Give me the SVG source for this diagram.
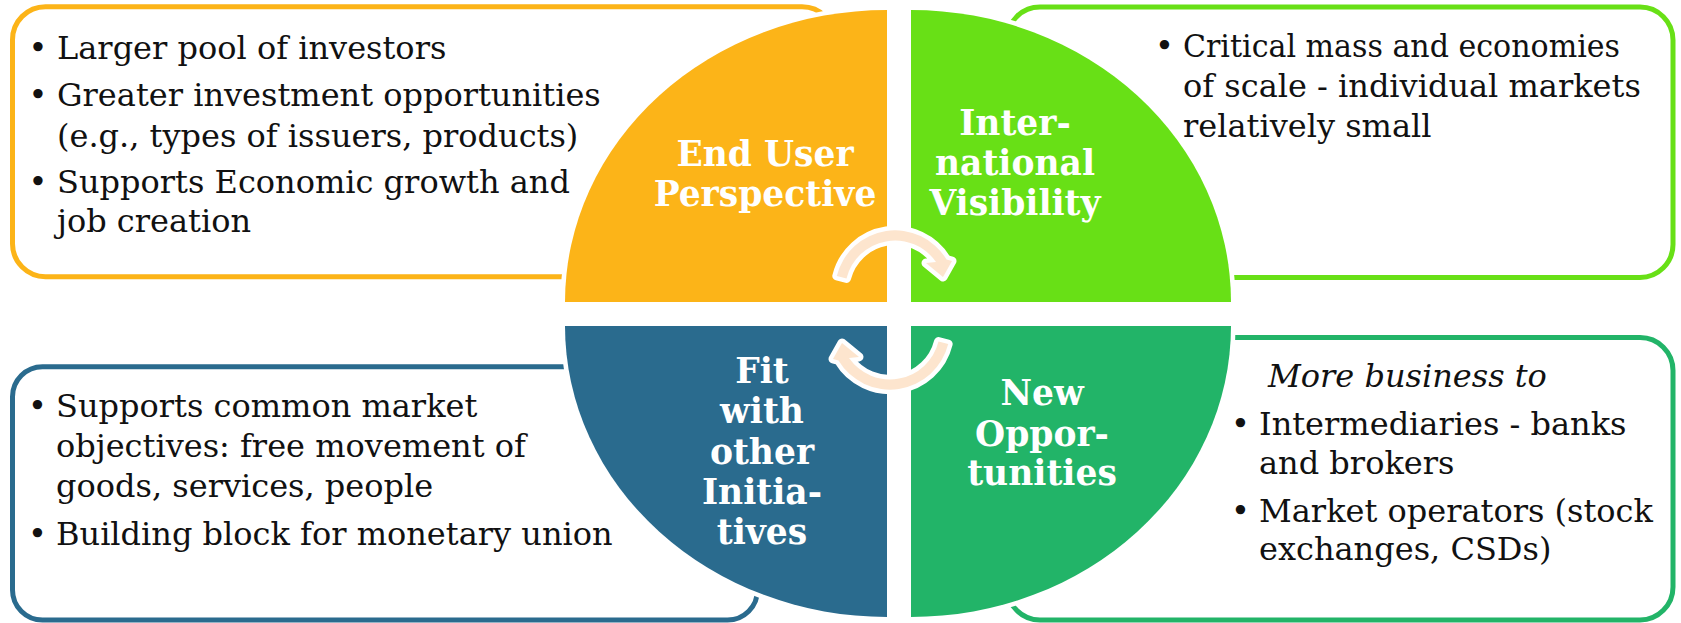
<svg xmlns="http://www.w3.org/2000/svg" xmlns:xlink="http://www.w3.org/1999/xlink" width="1681" height="623" viewBox="0 0 1681 623">
  <style>
    .box { fill: #ffffff; stroke-width: 5; }
    .quad { stroke: #ffffff; stroke-width: 9; paint-order: stroke; }
    .body { font-family: "DejaVu Serif", "Liberation Serif", serif; font-size: 32px; fill: #111111; }
    .bul { font-family: "DejaVu Serif", "Liberation Serif", serif; font-size: 32px; fill: #111111; text-anchor: middle; }
    .lbl { font-family: "DejaVu Serif", "Liberation Serif", serif; font-size: 34.5px; font-weight: bold; fill: #ffffff; text-anchor: middle; }
    .orange { fill: #FCB418; }
    .lime { fill: #68E016; }
    .teal { fill: #22B468; }
    .blue { fill: #2A6B8E; }
  </style>
  <defs>
    <!-- curved cycle arrow: band around (895,290.5), head pointing down -->
    <path id="cycleArrow" d="M836.8,276 A60,60 0 0,1 946.5,259.5 L952,261 L943,277 L926,263 L936,262 A50,50 0 0,0 846.5,278.4 Z" fill="#FDE5CE" stroke="#ffffff" stroke-width="9" stroke-linejoin="round" paint-order="stroke"/>
  </defs>

  <rect width="1681" height="623" fill="#ffffff"/>

  <!-- text panels -->
  <g id="panel-end-user">
    <rect class="box" x="12.5" y="6.7" width="822.5" height="270" rx="33" stroke="#FCB418"/>
    <text class="bul" x="38" y="59">•</text>
    <text class="body" x="57" y="59">Larger pool of investors</text>
    <text class="bul" x="38" y="106">•</text>
    <text class="body" x="57" y="106">Greater investment opportunities</text>
    <text class="body" x="57" y="147">(e.g., types of issuers, products)</text>
    <text class="bul" x="38" y="193">•</text>
    <text class="body" x="57" y="193">Supports Economic growth and</text>
    <text class="body" x="57" y="232">job creation</text>
  </g>

  <g id="panel-visibility">
    <rect class="box" x="1007" y="7" width="666" height="270.5" rx="33" stroke="#68E016"/>
    <text class="bul" x="1164.5" y="57">•</text>
    <text class="body" x="1183" y="57" textLength="437" lengthAdjust="spacingAndGlyphs">Critical mass and economies</text>
    <text class="body" x="1183" y="97">of scale - individual markets</text>
    <text class="body" x="1183" y="137">relatively small</text>
  </g>

  <g id="panel-fit">
    <rect class="box" x="12.5" y="366.7" width="745" height="253.3" rx="30" stroke="#2A6B8E"/>
    <text class="bul" x="37.5" y="417">•</text>
    <text class="body" x="56" y="417">Supports common market</text>
    <text class="body" x="56" y="457">objectives: free movement of</text>
    <text class="body" x="56" y="497">goods, services, people</text>
    <text class="bul" x="37.5" y="545">•</text>
    <text class="body" x="56" y="545">Building block for monetary union</text>
  </g>

  <g id="panel-opportunities">
    <rect class="box" x="1007" y="337.5" width="666" height="282.5" rx="33" stroke="#22B468"/>
    <text class="body" x="1268" y="387" font-style="italic">More business to</text>
    <text class="bul" x="1240.5" y="435">•</text>
    <text class="body" x="1259" y="435">Intermediaries - banks</text>
    <text class="body" x="1259" y="474">and brokers</text>
    <text class="bul" x="1240.5" y="522">•</text>
    <text class="body" x="1259" y="522">Market operators (stock</text>
    <text class="body" x="1259" y="560">exchanges, CSDs)</text>
  </g>

  <!-- quarter segments of the central ellipse -->
  <g id="node-end-user">
    <path class="quad orange" d="M887,302 L565,302 A322,292 0 0,1 887,10 Z"/>
    <text class="lbl" x="765" y="166">End User</text>
    <text class="lbl" x="765" y="206">Perspective</text>
  </g>

  <g id="node-visibility">
    <path class="quad lime" d="M911,302 L911,10 A320,292 0 0,1 1231,302 Z"/>
    <text class="lbl" x="1015" y="135">Inter-</text>
    <text class="lbl" x="1015" y="175">national</text>
    <text class="lbl" x="1015" y="215">Visibility</text>
  </g>

  <g id="node-opportunities">
    <path class="quad teal" d="M911,326 L1231,326 A320,291 0 0,1 911,617 Z"/>
    <text class="lbl" x="1042" y="405">New</text>
    <text class="lbl" x="1042" y="446">Oppor-</text>
    <text class="lbl" x="1042" y="485">tunities</text>
  </g>

  <g id="node-fit">
    <path class="quad blue" d="M887,326 L887,617 A322,291 0 0,1 565,326 Z"/>
    <text class="lbl" x="762" y="383">Fit</text>
    <text class="lbl" x="762" y="423">with</text>
    <text class="lbl" x="762" y="464">other</text>
    <text class="lbl" x="762" y="504">Initia-</text>
    <text class="lbl" x="762" y="544">tives</text>
  </g>

  <!-- cycle arrows -->
  <g id="connectors">
    <use xlink:href="#cycleArrow" href="#cycleArrow"/>
    <use xlink:href="#cycleArrow" href="#cycleArrow" transform="rotate(180 892.5 310)"/>
  </g>
</svg>
